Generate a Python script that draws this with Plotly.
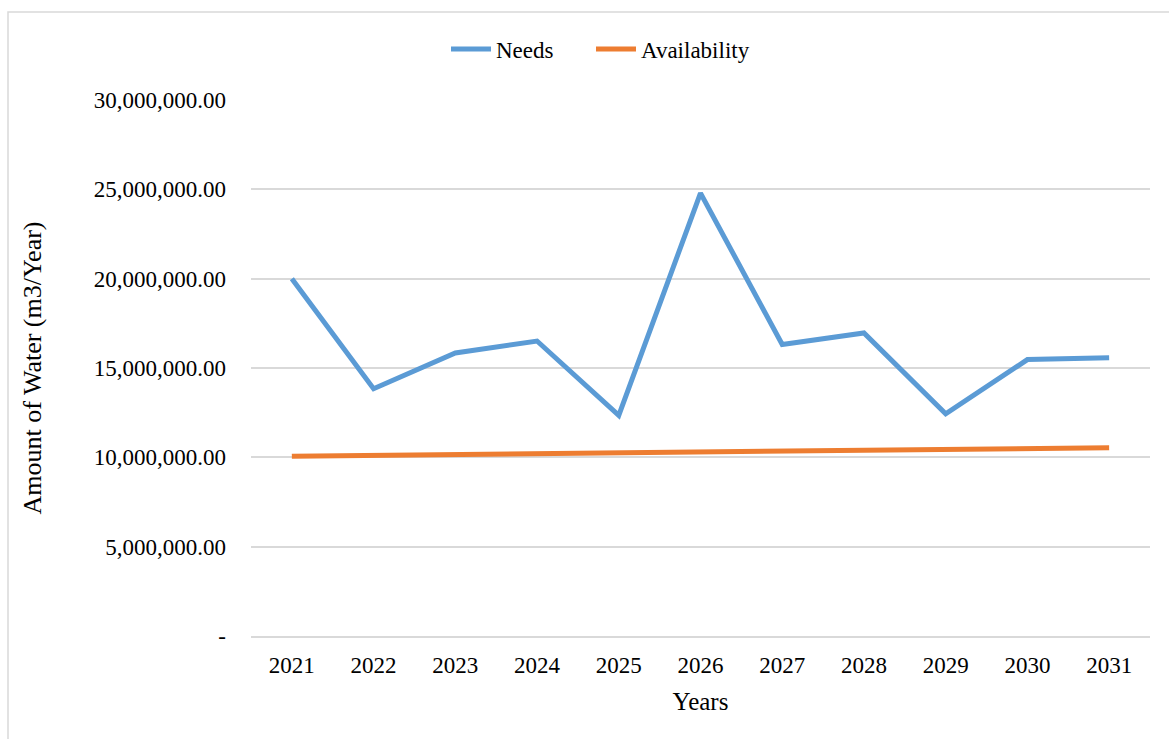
import plotly.graph_objects as go

# ---- data ----
years = ["2021", "2022", "2023", "2024", "2025", "2026", "2027", "2028", "2029", "2030", "2031"]
needs = [20000000, 13840000, 15840000, 16510000, 12350000, 24790000,
         16320000, 16960000, 12440000, 15470000, 15580000]
availability = [10060000, 10110000, 10150000, 10200000, 10250000, 10300000,
                10350000, 10400000, 10440000, 10490000, 10540000]
y_tickvals = [0, 5000000, 10000000, 15000000, 20000000, 25000000, 30000000]
y_ticktext = ["-", "5,000,000.00", "10,000,000.00", "15,000,000.00",
              "20,000,000.00", "25,000,000.00", "30,000,000.00"]

FONT = "Liberation Serif"

fig = go.Figure()
fig.add_trace(go.Scatter(x=years, y=needs, mode="lines", name="Needs",
                         line=dict(color="#5b9bd5", width=5), legend="legend"))
fig.add_trace(go.Scatter(x=years, y=availability, mode="lines", name="Availability",
                         line=dict(color="#ed7d31", width=5), legend="legend2"))

L, R, T, B = 251, 19, 100, 103
W, H = 1169, 739
pw = W - L - R
ph = H - T - B

def px_x(p):
    return (p - L) / pw

def px_y(p):
    return (H - B - p) / ph

legend_common = dict(orientation="h", xanchor="left", y=px_y(49), yanchor="middle",
                     font=dict(family=FONT, size=23, color="black"),
                     itemwidth=40, bgcolor="rgba(0,0,0,0)")

fig.update_layout(
    width=W, height=H,
    margin=dict(l=L, r=R, t=T, b=B),
    paper_bgcolor="white", plot_bgcolor="white",
    font=dict(family=FONT, size=23, color="black"),
    showlegend=True,
    legend=dict(x=px_x(446), **legend_common),
    legend2=dict(x=px_x(591), **legend_common),
    xaxis=dict(
        type="category", range=[-0.5, 10.5],
        showgrid=False, showline=True, linecolor="#d9d9d9", linewidth=1.5,
        ticks="", ticklabelstandoff=8,
        tickfont=dict(family=FONT, size=23, color="black"),
        title=dict(text="Years", font=dict(family=FONT, size=25, color="black"), standoff=15),
        zeroline=False,
    ),
    yaxis=dict(
        range=[0, 30000000],
        tickvals=y_tickvals, ticktext=y_ticktext,
        showgrid=True, gridcolor="#d9d9d9", gridwidth=1.5,
        zeroline=False, showline=False, ticks="",
        ticklabelstandoff=24,
        tickfont=dict(family=FONT, size=23, color="black"),
        title=dict(text="Amount of Water (m3/Year)",
                   font=dict(family=FONT, size=26, color="black"), standoff=44),
    ),
    shapes=[dict(type="rect", xref="paper", yref="paper",
                 x0=px_x(8), x1=px_x(1200), y0=px_y(760), y1=px_y(12),
                 line=dict(color="#d9d9d9", width=1.5), fillcolor="rgba(0,0,0,0)",
                 layer="below")],
)

fig.write_html("out.html")
